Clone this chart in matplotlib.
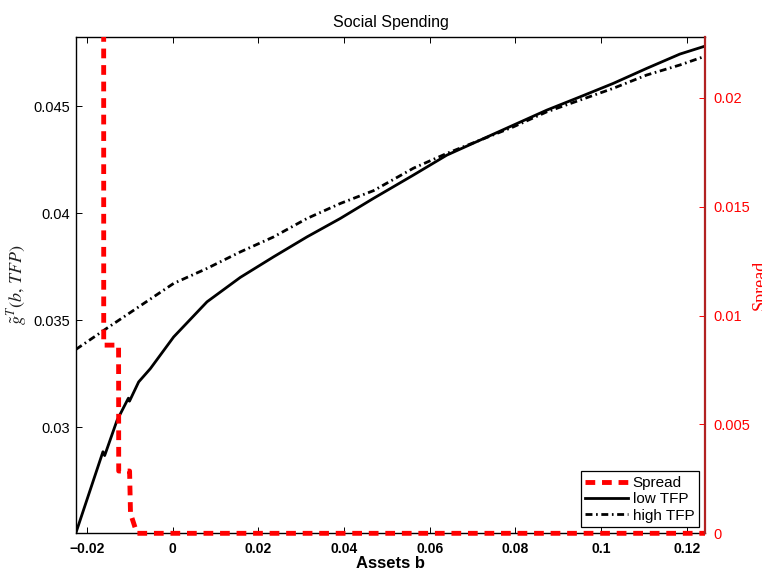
import matplotlib
matplotlib.use("Agg")
import matplotlib.pyplot as plt
from matplotlib.transforms import Bbox, TransformedBbox

plt.rcParams['font.family'] = ['Liberation Sans', 'DejaVu Sans']
plt.rcParams['mathtext.fontset'] = 'stix'

# ---- data ----
spread_b = [-0.0226, -0.01615, -0.01612, -0.01265, -0.01262, -0.01008,
            -0.00985, -0.00960, -0.00835, 0.1243]
spread_v = [0.05, 0.05, 0.00864, 0.00864, 0.00286, 0.00286,
            0.00078, 0.00075, 0.0, 0.0]

low_b = [-0.0226, -0.0163, -0.0159, -0.0130, -0.01036, -0.0101, -0.00796,
         -0.00523, 0.00021, 0.0080, 0.01577, 0.02354, 0.03133, 0.0391,
         0.04687, 0.05621, 0.0640, 0.07177, 0.07954, 0.08733,
         0.0951, 0.10287, 0.11067, 0.11844, 0.1243]
low_v = [0.02508, 0.02886, 0.02868, 0.03033, 0.03136, 0.03122, 0.03212,
         0.03274, 0.03422, 0.03586, 0.03700, 0.03796, 0.03889, 0.03975,
         0.04069, 0.04178, 0.04271, 0.04341, 0.04411, 0.04481,
         0.04543, 0.04606, 0.04676, 0.04743, 0.04780]

high_b = [-0.0226, -0.0155, -0.00679, 0.00021, 0.0080, 0.01577, 0.02354,
          0.03133, 0.0391, 0.04687, 0.05621, 0.0640, 0.07177, 0.07954,
          0.08733, 0.0951, 0.10287, 0.11067, 0.11844, 0.1239]
high_v = [0.03364, 0.03461, 0.03578, 0.03672, 0.03742, 0.03819, 0.03889,
          0.03975, 0.04045, 0.04105, 0.04210, 0.04279, 0.04341, 0.04403,
          0.04473, 0.04528, 0.04583, 0.04645, 0.04692, 0.04730]

xticks = [-0.02, 0, 0.02, 0.04, 0.06, 0.08, 0.1, 0.12]
xticklabels = ['\u22120.02', '0', '0.02', '0.04', '0.06', '0.08', '0.1', '0.12']
lticks = [0.03, 0.035, 0.04, 0.045]
lticklabels = ['0.03', '0.035', '0.04', '0.045']
rticks = [0, 0.005, 0.01, 0.015, 0.02]
rticklabels = ['0', '0.005', '0.01', '0.015', '0.02']

fig = plt.figure(figsize=(7.62, 5.71), dpi=100)
ax = fig.add_axes([0.0997, 0.066, 0.8255, 0.8697])

l_low, = ax.plot(low_b, low_v, color='k', lw=2.0)
l_high, = ax.plot(high_b, high_v, color='k', lw=2.0,
                  linestyle=(0, (2.5, 1.3, 0.6, 1.3)))
ax.set_xlim(-0.0226, 0.1243)
ax.set_ylim(0.02505, 0.04824)
ax.set_xticks(xticks)
ax.set_xticklabels(xticklabels, fontweight='bold', fontsize=10)
ax.set_yticks(lticks)
ax.set_yticklabels(lticklabels, fontsize=10.5)
ax.tick_params(axis='both', direction='in', length=4, width=0.7,
               top=True, right=True, colors='k')
ax.tick_params(axis='x', pad=6)
ax.tick_params(axis='y', pad=4)
for s in ['left', 'top', 'bottom']:
    ax.spines[s].set_linewidth(1.0)
ax.spines['right'].set_visible(False)

ax.set_title('Social Spending', fontsize=11.5, pad=7)
ax.set_xlabel('Assets b', fontweight='bold', fontsize=12, labelpad=0)
ax.set_ylabel(r'$\tilde{g}^T(b,\,TFP)$', fontsize=13, color='#222222',
              labelpad=3)

ax2 = ax.twinx()
l_spread, = ax2.plot(spread_b, spread_v, color='#ff0000', lw=3.5,
                     linestyle=(0, (2.0, 1.4)))
l_spread.set_clip_box(TransformedBbox(Bbox([[0, -0.02], [1, 1]]),
                                      ax2.transAxes))
ax2.set_ylim(0, 0.0228)
ax2.set_yticks(rticks)
ax2.set_yticklabels(rticklabels, fontsize=10.5, color='#ff0000')
ax2.tick_params(axis='y', direction='in', length=4, width=0.7,
                colors='#ff0000', pad=6)
for s in ['left', 'top', 'bottom']:
    ax2.spines[s].set_visible(False)
ax2.spines['right'].set_color('#b22222')
ax2.spines['right'].set_linewidth(1.6)
ax2.set_ylabel('Spread', fontsize=13, color='#ff0000',
               family=['Liberation Serif', 'DejaVu Serif'], labelpad=1)

leg = ax2.legend([l_spread, l_low, l_high], ['Spread', 'low TFP', 'high TFP'],
                 loc='lower right', fontsize=11, frameon=True, fancybox=False,
                 edgecolor='k', framealpha=1, handlelength=2.8,
                 handletextpad=0.3, labelspacing=0.15, borderpad=0.3,
                 borderaxespad=0.4)
leg.get_frame().set_linewidth(0.9)

fig.savefig('out.png', dpi=100, facecolor='white')
